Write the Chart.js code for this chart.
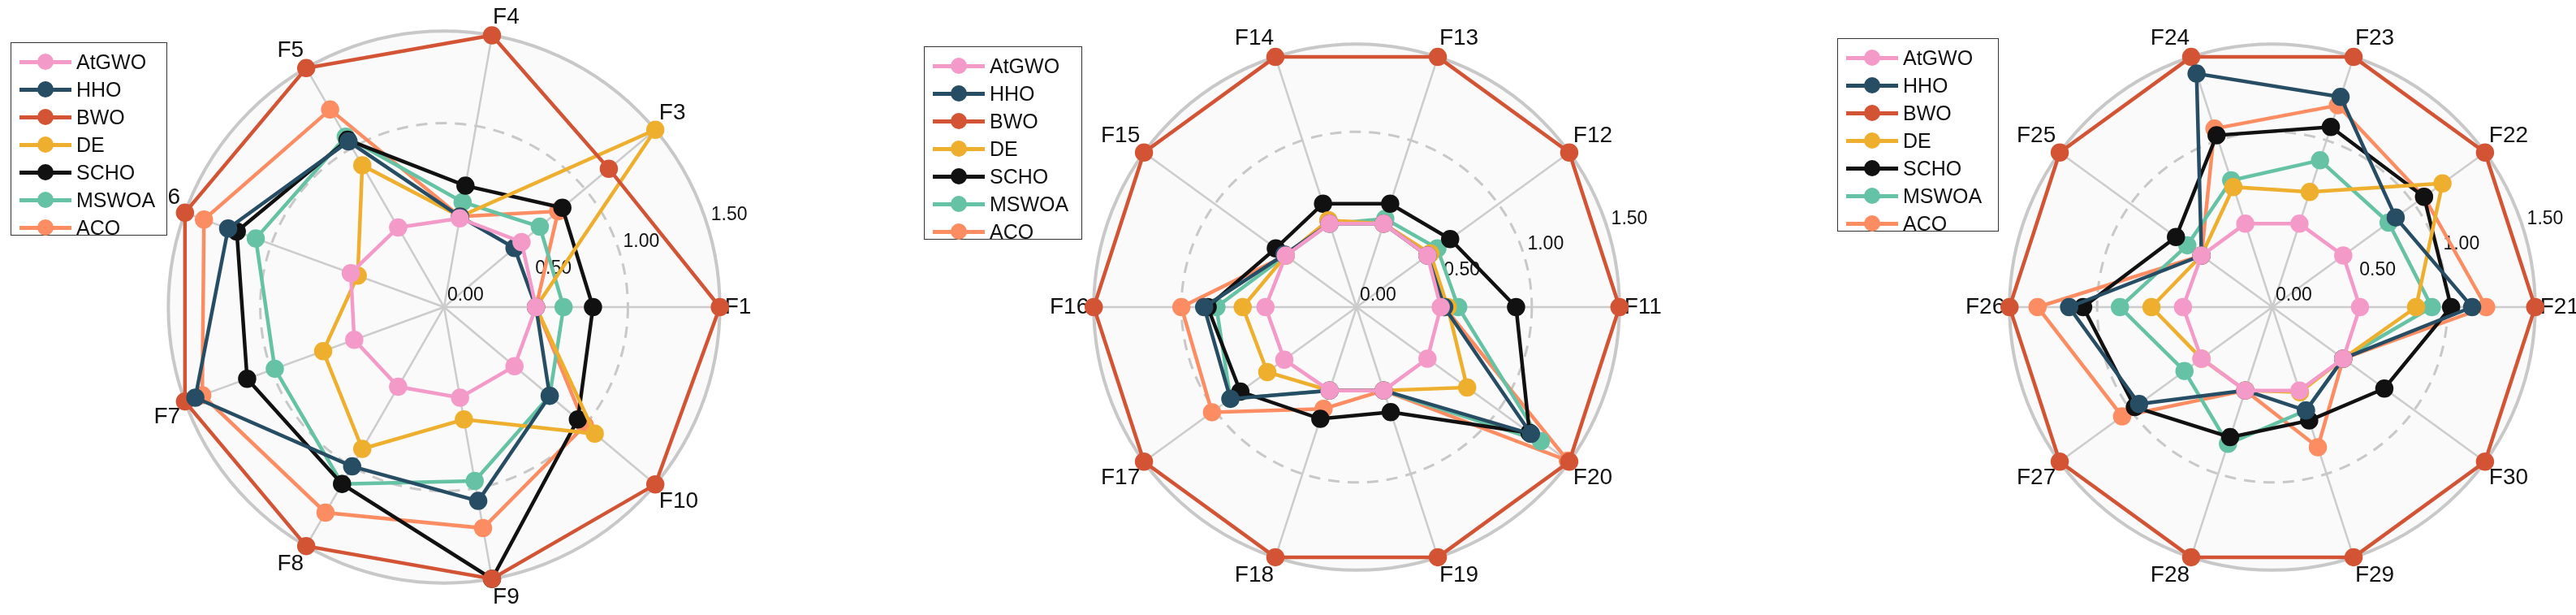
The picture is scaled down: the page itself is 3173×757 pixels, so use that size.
<!DOCTYPE html>
<html>
<head>
<meta charset="utf-8">
<script src="https://cdn.jsdelivr.net/npm/chart.js@4/dist/chart.umd.min.js"></script>
<style>
  body { margin: 0; background: #fff; width: 3173px; height: 757px; position: relative; overflow: hidden; font-family: "Liberation Sans", Arial, sans-serif; }
  .panel { position: absolute; top: 0; width: 757px; height: 757px; }
  .legend { position: absolute; border: 1.5px solid #333; background: #fff; padding: 6px 10px; box-sizing: border-box; }
  .item { display: flex; align-items: center; height: 34px; font-size: 25px; color: #111; }
  .mark { position: relative; width: 64px; height: 20px; margin-right: 6px; }
  .mark .ln { position: absolute; left: 0; right: 0; top: 8px; height: 5px; }
  .mark .dt { position: absolute; left: 22px; top: 0; width: 20px; height: 20px; border-radius: 50%; }
</style>
</head>
<body>
<script>
const methods = ['AtGWO', 'HHO', 'BWO', 'DE', 'SCHO', 'MSWOA', 'ACO'];
const colors = ['#F49AC8', '#264D63', '#D35435', '#EFAF2E', '#111111', '#66C2A5', '#FC8D62'];

const labels1 = ['F1', 'F3', 'F4', 'F5', 'F6', 'F7', 'F8', 'F9', 'F10'];
const atgwo1 = [0.50, 0.55, 0.49, 0.50, 0.54, 0.52, 0.50, 0.50, 0.50];
const hho1   = [0.50, 0.50, 0.50, 1.04, 1.25, 1.44, 1.00, 1.07, 0.75];
const bwo1   = [1.50, 1.17, 1.50, 1.50, 1.50, 1.50, 1.50, 1.50, 1.50];
const de1    = [0.50, 1.50, 0.50, 0.89, 0.50, 0.70, 0.89, 0.62, 1.07];
const scho1  = [0.81, 0.84, 0.67, 1.05, 1.20, 1.14, 1.11, 1.50, 0.95];
const mswoa1 = [0.65, 0.68, 0.58, 1.07, 1.09, 0.98, 1.11, 0.96, 0.75];
const aco1   = [0.50, 0.81, 0.50, 1.24, 1.39, 1.40, 1.29, 1.22, 1.00];

const labels2 = ['F11', 'F12', 'F13', 'F14', 'F15', 'F16', 'F17', 'F18', 'F19', 'F20'];
const atgwo2 = [0.48, 0.50, 0.50, 0.50, 0.50, 0.52, 0.51, 0.50, 0.50, 0.50];
const hho2   = [0.50, 0.50, 0.50, 0.50, 0.51, 0.87, 0.89, 0.50, 0.50, 1.23];
const bwo2   = [1.50, 1.50, 1.50, 1.50, 1.50, 1.50, 1.50, 1.50, 1.50, 1.50];
const de2    = [0.52, 0.52, 0.50, 0.52, 0.50, 0.65, 0.63, 0.50, 0.50, 0.78];
const scho2  = [0.91, 0.66, 0.62, 0.62, 0.57, 0.85, 0.82, 0.67, 0.63, 1.22];
const mswoa2 = [0.58, 0.57, 0.53, 0.50, 0.50, 0.80, 0.89, 0.50, 0.50, 1.30];
const aco2   = [0.50, 0.50, 0.50, 0.52, 0.50, 1.00, 1.02, 0.61, 0.50, 1.49];

const labels3 = ['F21', 'F22', 'F23', 'F24', 'F25', 'F26', 'F27', 'F28', 'F29', 'F30'];
const atgwo3 = [0.50, 0.50, 0.50, 0.50, 0.50, 0.51, 0.50, 0.50, 0.50, 0.50];
const hho3   = [1.14, 0.87, 1.26, 1.40, 0.50, 1.16, 0.94, 0.50, 0.62, 0.50];
const bwo3   = [1.50, 1.50, 1.50, 1.50, 1.50, 1.50, 1.50, 1.50, 1.50, 1.50];
const de3    = [0.82, 1.20, 0.69, 0.72, 0.50, 0.69, 0.50, 0.50, 0.51, 0.50];
const scho3  = [1.02, 1.07, 1.08, 1.03, 0.68, 1.08, 0.97, 0.78, 0.68, 0.79];
const mswoa3 = [0.91, 0.82, 0.88, 0.76, 0.60, 0.87, 0.62, 0.82, 0.62, 0.50];
const aco3   = [1.22, 1.07, 1.21, 1.07, 0.50, 1.34, 1.06, 0.50, 0.84, 0.50];

const tickValues = [0, 0.5, 1.0, 1.5];

const panels = [
  { cx: 558, labels: labels1, series: [atgwo1, hho1, bwo1, de1, scho1, mswoa1, aco1], legend: [13, 52, 193, 238] },
  { cx: 1670, labels: labels2, series: [atgwo2, hho2, bwo2, de2, scho2, mswoa2, aco2], legend: [1138, 57, 195, 238] },
  { cx: 2799, labels: labels3, series: [atgwo3, hho3, bwo3, de3, scho3, mswoa3, aco3], legend: [2263, 47, 199, 238] },
];

// F1 at right, going counter-clockwise: reorder to [0, n-1, ..., 1]
function reorder(arr) {
  return [arr[0]].concat(arr.slice(1).reverse());
}

// background disc, rings and tick texts
const radarDeco = {
  id: 'radarDeco',
  beforeDraw(chart) {
    const s = chart.scales.r, ctx = chart.ctx;
    ctx.save();
    ctx.fillStyle = '#fafafa';
    ctx.beginPath();
    ctx.arc(s.xCenter, s.yCenter, s.drawingArea, 0, Math.PI * 2);
    ctx.fill();
    ctx.restore();
  },
  beforeDatasetsDraw(chart) {
    const s = chart.scales.r, ctx = chart.ctx;
    ctx.save();
    ctx.strokeStyle = '#c8c8c8';
    ctx.lineWidth = 3;
    ctx.setLineDash([14, 10]);
    ctx.beginPath();
    ctx.arc(s.xCenter, s.yCenter, s.getDistanceFromCenterForValue(1.0), 0, Math.PI * 2);
    ctx.stroke();
    ctx.setLineDash([]);
    ctx.lineWidth = 4;
    ctx.beginPath();
    ctx.arc(s.xCenter, s.yCenter, s.getDistanceFromCenterForValue(1.5), 0, Math.PI * 2);
    ctx.stroke();
    ctx.fillStyle = '#111';
    ctx.font = '23px "Liberation Sans", Arial, sans-serif';
    ctx.textAlign = 'left';
    ctx.textBaseline = 'middle';
    const a = 17 * Math.PI / 180;
    tickValues.forEach((v) => {
      const r = s.getDistanceFromCenterForValue(v);
      ctx.fillText(v.toFixed(2), s.xCenter + r * Math.cos(a) + 4, s.yCenter - r * Math.sin(a) - 14);
    });
    ctx.restore();
  },
};

panels.forEach((p) => {
  const div = document.createElement('div');
  div.className = 'panel';
  div.style.left = (p.cx - 378) + 'px';
  const canvas = document.createElement('canvas');
  div.appendChild(canvas);
  document.body.appendChild(div);

  new Chart(canvas.getContext('2d'), {
    type: 'radar',
    data: {
      labels: reorder(p.labels),
      datasets: methods.map((m, i) => ({
        label: m,
        data: reorder(p.series[i]),
        borderColor: colors[i],
        backgroundColor: colors[i],
        pointBackgroundColor: colors[i],
        pointBorderColor: colors[i],
        borderWidth: 4.5,
        pointRadius: 9,
        fill: false,
      })),
    },
    options: {
      responsive: true,
      maintainAspectRatio: false,
      animation: false,
      layout: { padding: { top: 4, bottom: 4 } },
      plugins: { legend: { display: false }, tooltip: { enabled: false } },
      scales: {
        r: {
          min: 0,
          max: 1.5,
          startAngle: 90,
          ticks: { display: false, stepSize: 0.5 },
          grid: { display: false },
          angleLines: { color: '#cccccc', lineWidth: 2.5 },
          pointLabels: {
            color: '#111',
            padding: 6,
            font: { size: 28, family: '"Liberation Sans", Arial, sans-serif' },
          },
        },
      },
    },
    plugins: [radarDeco],
  });

  const lg = document.createElement('div');
  lg.className = 'legend';
  lg.style.left = p.legend[0] + 'px';
  lg.style.top = p.legend[1] + 'px';
  lg.style.width = p.legend[2] + 'px';
  lg.style.height = p.legend[3] + 'px';
  methods.forEach((m, i) => {
    const it = document.createElement('div');
    it.className = 'item';
    it.innerHTML = `<div class="mark"><div class="ln" style="background:${colors[i]}"></div><div class="dt" style="background:${colors[i]}"></div></div>${m}`;
    lg.appendChild(it);
  });
  document.body.appendChild(lg);
});
</script>
</body>
</html>
